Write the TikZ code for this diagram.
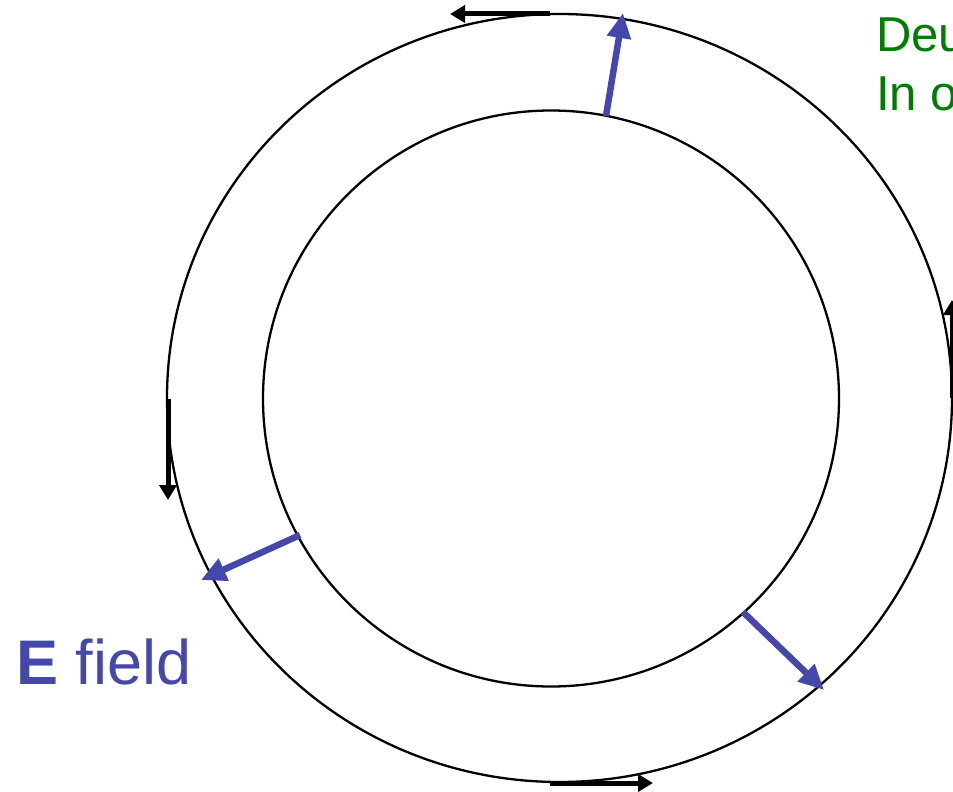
\documentclass[tikz,border=0pt]{standalone}
\usepackage{fontspec}
\setmainfont{Liberation Sans}
\usetikzlibrary{arrows.meta}
\definecolor{efield}{RGB}{68,72,170}
\definecolor{deugreen}{RGB}{0,125,0}

\begin{document}
\begin{tikzpicture}[
  x=1pt, y=-1pt, every node/.style={inner sep=0pt},
  ring/.style={draw, line width=2.3pt},
  tangent/.style={line width=5pt, -{Triangle[length=15pt,width=17pt]}},
  radial/.style={line width=6.5pt, draw=efield, -{Triangle[length=25pt,width=23pt]}}]
\useasboundingbox (0,0) rectangle (953,792);
\clip (0,0) rectangle (953,792);
% the two rings
\draw[ring] (559.5,398) ellipse [x radius=392.5, y radius=384];
\draw[ring] (551,398.5) circle [radius=288];
% ends of the tangential arrows on the outer ring
\coordinate (topS) at (550,14);   \coordinate (topT) at (450,14);
\coordinate (rgtS) at (952,398);  \coordinate (rgtT) at (952,300);
\coordinate (lftS) at (168,399);  \coordinate (lftT) at (168,500);
\coordinate (botS) at (550,783);  \coordinate (botT) at (653,783);
\draw[tangent] (topS) -- (topT);
\draw[tangent] (rgtS) -- (rgtT);
\draw[tangent] (lftS) -- (lftT);
\draw[tangent] (botS) -- (botT);
% E field, inner ring to outer ring
\coordinate (e1S) at (606,116);  \coordinate (e1T) at (623,13);
\coordinate (e2S) at (300,535);  \coordinate (e2T) at (201,580);
\coordinate (e3S) at (743,612);  \coordinate (e3T) at (824,690);
\draw[radial] (e1S) -- (e1T);
\draw[radial] (e2S) -- (e2T);
\draw[radial] (e3S) -- (e3T);
% labels
\node[anchor=base west, text=efield, font=\fontsize{63}{75}\selectfont] (elabel) at (16,684) {\textbf{E} field};
\node[anchor=north west, align=left, text=deugreen, font=\fontsize{49}{59}\selectfont] (dlabel) at (876,18) {Deu\\In o};
\end{tikzpicture}
\end{document}
